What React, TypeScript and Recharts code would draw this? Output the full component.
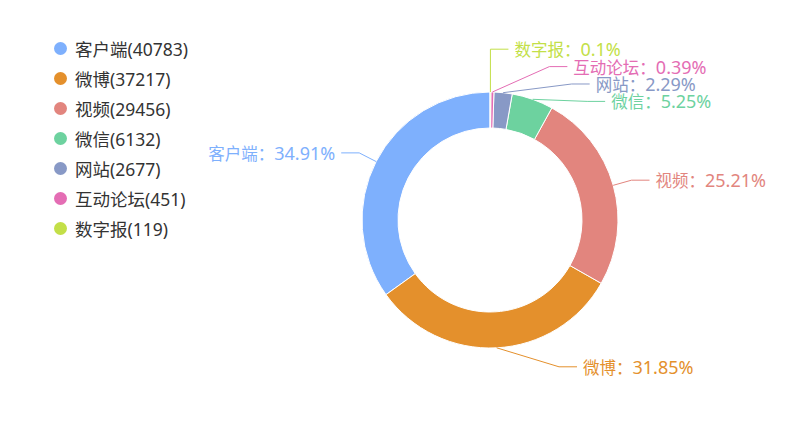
import React from "react";
import { PieChart, Pie, Cell, Legend } from "recharts";

const categories = ["客户端", "微博", "视频", "微信", "网站", "互动论坛", "数字报"];
const counts = [40783, 37217, 29456, 6132, 2677, 451, 119];
const COLORS = ["#7eb0fd", "#e4902c", "#e2857e", "#6dd29f", "#8899c6", "#e46db4", "#c3df48"];

const data = categories.map((name, i) => ({ name, value: counts[i] }));
const total = counts.reduce((a, b) => a + b, 0);

const FONT = "'Noto Sans', 'Noto Sans CJK SC', sans-serif";
const START = 90;
const END = 450;
const LEN1 = 19; // radial part of the label line
const LEN2 = 18; // horizontal part
const GAP = 6;
const LINE_H = 17.4;
const BEND = 12; // ellipse used for spread labels is a bit narrower than the line circle
const LEGEND_W = 240;

const pctText = (v: number) => `${+((v / total) * 100).toFixed(2)}%`;

type Placed = { ex: number; ly: number; side: number };

// simple outside-label layout: spread crowded labels, then bend x onto an ellipse
function layoutLabels(cx: number, cy: number, r: number): Placed[] {
  const R = r + LEN1;
  let acc = START;
  const items = counts.map((v, i) => {
    const span = (v / total) * (END - START);
    const mid = acc + span / 2;
    acc += span;
    const rad = (mid * Math.PI) / 180;
    const cos = Math.cos(rad);
    const sin = Math.sin(rad);
    return { i, nx: cx + R * cos, y: cy - R * sin, ly: cy - R * sin, ex: 0, side: cos >= 0 ? 1 : -1 };
  });

  [1, -1].forEach((side) => {
    const list = items.filter((it) => it.side === side).sort((a, b) => a.y - b.y);
    const clusters: { members: typeof list; start: number }[] = [];
    list.forEach((it) => {
      clusters.push({ members: [it], start: it.y });
      while (clusters.length > 1) {
        const prev = clusters[clusters.length - 2];
        const cur = clusters[clusters.length - 1];
        if (prev.start + prev.members.length * LINE_H <= cur.start) break;
        const members = prev.members.concat(cur.members);
        const start = members.reduce((s, m, k) => s + m.y - k * LINE_H, 0) / members.length;
        clusters.splice(-2, 2, { members, start });
      }
    });
    let moved = false;
    clusters.forEach((c) =>
      c.members.forEach((m, k) => {
        m.ly = c.start + k * LINE_H;
        if (Math.abs(m.ly - m.y) > 0.5) moved = true;
      })
    );
    if (moved) {
      let rB = R;
      list.forEach((m) => {
        const dy = Math.abs(m.ly - cy);
        const dx = m.nx - cx;
        const t = 1 - (dx * dx) / (R * R);
        rB = Math.max(rB, t > 0 ? dy / Math.sqrt(t) : R);
      });
      const rA = R - BEND;
      list.forEach((m) => {
        const dy = Math.abs(m.ly - cy);
        const onEllipse = rA * Math.sqrt(Math.max(0, 1 - (dy * dy) / (rB * rB)));
        const natural = Math.abs(m.nx - cx);
        const dx = Math.abs(m.ly - m.y) > 0.5 ? onEllipse : Math.max(natural, onEllipse);
        m.ex = cx + side * dx;
      });
    } else {
      list.forEach((m) => (m.ex = m.nx));
    }
  });

  return items.map((it) => ({ ex: it.ex, ly: it.ly, side: it.side }));
}

const renderLabel = (props: any) => {
  const { cx, cy, outerRadius, midAngle, index } = props;
  const p = layoutLabels(cx, cy, outerRadius)[index];
  const RAD = Math.PI / 180;
  const ax = cx + outerRadius * Math.cos(-midAngle * RAD);
  const ay = cy + outerRadius * Math.sin(-midAngle * RAD);
  const lx = p.ex + p.side * LEN2;
  const color = COLORS[index];
  return (
    <g key={`lbl-${index}`}>
      <polyline
        points={`${ax},${ay} ${p.ex},${p.ly} ${lx},${p.ly}`}
        fill="none"
        stroke={color}
        strokeWidth={1}
      />
      <text
        x={lx + p.side * GAP}
        y={p.ly}
        textAnchor={p.side > 0 ? "start" : "end"}
        dominantBaseline="central"
        fill={color}
        fontSize={16.5}
        fontFamily={FONT}
      >
        <tspan>{`${categories[index]}：`}</tspan>
        <tspan fontSize={18}>{pctText(counts[index])}</tspan>
      </text>
    </g>
  );
};

const renderLegend = () => (
  <div style={{ paddingTop: 33, fontFamily: FONT }}>
    {categories.map((name, i) => (
      <div key={name} style={{ height: 30, display: "flex", alignItems: "center" }}>
        <span
          style={{
            display: "inline-block",
            width: 13,
            height: 13,
            borderRadius: "50%",
            background: COLORS[i],
            marginLeft: 54,
            marginRight: 8,
          }}
        />
        <span style={{ fontSize: 17.5, color: "#333" }}>{`${name}(${counts[i]})`}</span>
      </div>
    ))}
  </div>
);

export default function App() {
  return (
    <div style={{ position: "absolute", left: 0, top: 0, background: "#fff" }}>
      <PieChart
        width={806}
        height={436}
        margin={{ top: 0, right: 0, bottom: 0, left: 0 }}
        style={{ fontFamily: FONT }}
      >
        <Legend
          layout="vertical"
          align="left"
          verticalAlign="top"
          content={renderLegend}
          wrapperStyle={{ left: 0, top: 0, width: LEGEND_W }}
        />
        <Pie
          data={data}
          dataKey="value"
          nameKey="name"
          cx={490 - LEGEND_W}
          cy={220}
          innerRadius={92}
          outerRadius={128}
          startAngle={START}
          endAngle={END}
          stroke="#fff"
          strokeWidth={1}
          label={renderLabel}
          labelLine={false}
          isAnimationActive={false}
        >
          {data.map((d, i) => (
            <Cell key={d.name} fill={COLORS[i]} />
          ))}
        </Pie>
      </PieChart>
    </div>
  );
}
